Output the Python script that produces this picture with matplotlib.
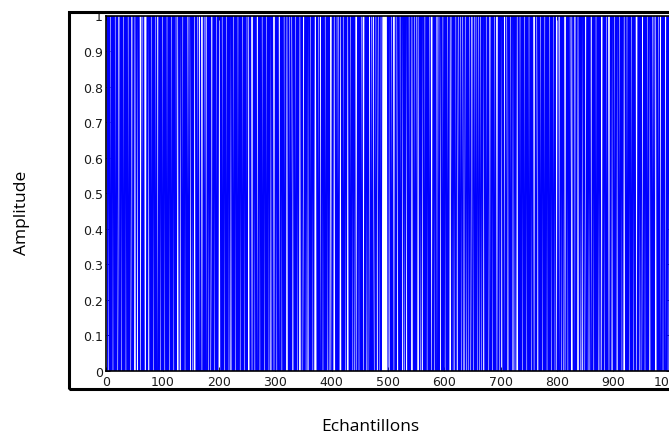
import numpy as np
import matplotlib.pyplot as plt
from matplotlib.patches import Rectangle

# run lengths of the binary sequence, levels alternate 1, 0, 1, ...
runs = [
    1, 1, 2, 1, 1, 2, 1, 1, 2, 1, 1, 2, 1, 1, 2, 3,
    1, 1, 2, 1, 1, 2, 1, 1, 2, 1, 1, 2, 1, 1, 2, 3,
    1, 1, 4, 1, 3, 1, 1, 4, 1, 2, 1, 5, 1, 1, 3,
    1, 1, 2, 1, 1, 2, 1, 1, 2, 1, 3,
    1, 1, 2, 1, 1, 2, 1, 1, 2, 1, 1, 2, 1, 1, 2, 1, 1, 2, 1, 1, 2, 1, 1, 2, 4,
    1, 3, 1, 1, 2, 1, 1, 2, 1, 1, 2, 1, 2, 3,
    1, 2, 1, 4, 1, 1, 2, 1, 3, 1, 4, 1, 2, 1, 3,
    1, 1, 2, 1, 2, 3, 1, 1, 2, 1, 1, 2, 1, 1, 4,
    1, 1, 2, 1, 1, 2, 1, 1, 2, 1, 1, 2, 1, 3,
    1, 1, 2, 1, 1, 2, 1, 1, 2, 1, 1, 2, 1, 1, 2, 1, 1, 2, 1, 1, 2, 4,
    1, 1, 4, 1, 1, 2, 1, 1, 3,
    1, 1, 2, 1, 1, 2, 1, 1, 2, 1, 1, 2, 1, 1, 2, 1, 3,
    1, 1, 4, 1, 1, 2, 1, 1, 3, 1, 1, 2, 1, 1, 2, 1, 1, 4,
    1, 1, 2, 1, 2, 3, 1, 1, 2, 1, 1, 2, 1, 4,
    1, 2, 3, 1, 1, 2, 1, 3, 1, 1, 2, 1, 1, 2, 1, 5,
    1, 1, 2, 1, 3, 1, 1, 2, 1, 1, 2, 1, 1, 2, 1, 2, 4,
    1, 1, 4, 1, 1, 2, 1, 2, 4, 1, 1, 2, 1, 1, 2, 1, 4,
    1, 1, 2, 1, 1, 2, 1, 2, 4, 1, 1, 2, 1, 1, 2, 1, 4,
    1, 1, 2, 1, 2, 3, 1, 2, 1, 3,
    2, 2, 3, 2, 2, 2, 11,
    1, 3, 1, 1, 2, 1, 4, 1, 2, 3, 1, 1, 2, 1, 1, 3, 1, 2, 1, 3,
    1, 1, 2, 1, 1, 4, 1, 1, 2, 1, 2, 4, 1, 2, 1, 3,
    1, 1, 2, 1, 1, 2, 1, 1, 2, 1, 4, 1, 1, 2, 1, 1, 3, 1, 2, 3,
    1, 1, 2, 1, 1, 2, 1, 1, 2, 1, 1, 4,
    2, 2, 1, 2, 2, 3, 2, 1, 2, 2, 2, 3, 2, 2, 1, 2, 2, 2, 3,
    2, 2, 1, 2, 2, 2, 2, 2, 2, 1, 3,
    1, 1, 2, 1, 1, 2, 3, 1, 1, 2, 1, 1, 2, 1, 4, 1, 1, 2, 1, 3,
    1, 1, 3, 1, 2, 3, 1, 1, 2, 1, 1, 3, 1, 2, 1, 4,
    1, 1, 2, 1, 1, 2, 1, 1, 2, 1, 1, 2, 1, 1, 2, 1, 1, 2, 1, 1, 4,
    1, 2, 3,
    1, 1, 2, 1, 1, 2, 1, 1, 2, 1, 1, 2, 1, 1, 2, 1, 1, 2, 1, 1, 2, 2, 4,
    1, 3, 1, 1, 2, 1, 2, 4, 1, 1, 2, 1, 1, 2, 4, 1, 1, 3, 1, 1, 4,
    1, 2, 1, 3, 1, 2, 3, 1, 1, 2, 1, 2, 3,
    1, 1, 2, 1, 1, 2, 1, 1, 2, 1, 2, 4, 1, 1, 2, 1, 1, 2, 1, 4,
    1, 1, 3, 1, 1, 2, 1, 1, 3, 1, 1, 2, 1, 1, 2, 1, 4,
    1, 1, 2, 1, 1, 2, 1, 1, 2, 1, 1, 2, 1, 1, 4,
    1, 1, 2, 1, 2, 3, 1, 1, 2, 1, 1, 2, 1, 1, 3,
    1, 1, 2, 1, 2, 4, 1, 1, 2, 1, 3, 1, 1, 2, 1, 1, 3, 1, 1, 2, 1, 1,
]

levels = (np.arange(len(runs)) + 1) % 2
signal = np.repeat(levels, runs)
samples = np.arange(1, len(signal) + 1)

xticks = [0, 100, 200, 300, 400, 500, 600, 700, 800, 900, 1000]
yticks = [0, 0.1, 0.2, 0.3, 0.4, 0.5, 0.6, 0.7, 0.8, 0.9, 1]
ylabels = ['0', '0.1', '0.2', '0.3', '0.4', '0.5', '0.6', '0.7', '0.8', '0.9', '1']

W, H = 669, 439
fig = plt.figure(figsize=(W / 100, H / 100), dpi=100)

# outer black frame
fig.patches.append(Rectangle((69 / W, 1 - 390 / H), 610 / W, 377 / H,
                             transform=fig.transFigure, fill=False,
                             edgecolor='black', linewidth=2.2))

ax = fig.add_axes([106.5 / W, 1 - 372 / H, 563 / W, 355.5 / H])
ax.plot(samples, signal, color=(0, 0, 1), linewidth=0.8)
ax.set_xlim(0, 1000)
ax.set_ylim(0, 1)
ax.set_xticks(xticks)
ax.set_xticklabels([str(v) for v in xticks])
ax.set_yticks(yticks)
ax.set_yticklabels(ylabels)
ax.tick_params(direction='in', top=True, right=True, length=3, width=0.6,
               labelsize=9, pad=1.5, colors='black')
ax.tick_params(axis='x', pad=3)
ax.tick_params(axis='y', pad=2.5)
for lab in ax.get_xticklabels() + ax.get_yticklabels():
    lab.set_family('DejaVu Sans')
    lab.set_color('#1a1a1a')
for s in ax.spines.values():
    s.set_linewidth(1.2)

fig.text(22 / W, 1 - 213 / H, 'Amplitude', rotation=90, ha='center', va='center',
         fontsize=12.5, family=['Open Sans', 'DejaVu Sans'])
fig.text(370 / W, 1 - 427 / H, 'Echantillons', ha='center', va='center',
         fontsize=12.5, family=['Open Sans', 'DejaVu Sans'])

fig.savefig('out.png', dpi=100)
